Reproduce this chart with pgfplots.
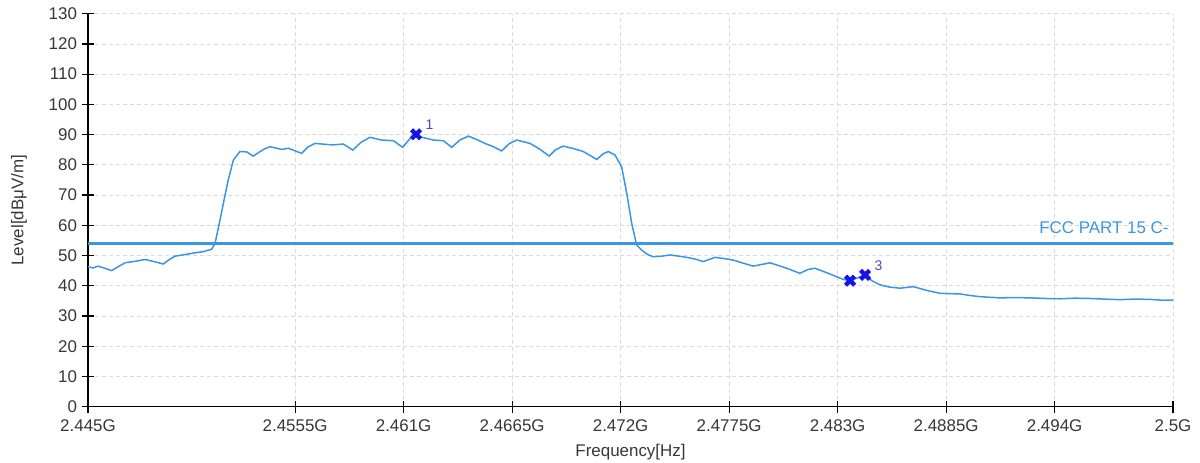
\documentclass[border=0pt]{standalone}
\usepackage{pgfplots}
\pgfplotsset{compat=1.18}
\usepackage{fontspec}
\setmainfont{Liberation Sans}
\definecolor{trace}{RGB}{58,150,228}
\definecolor{limitc}{RGB}{58,150,228}
\definecolor{mk}{RGB}{20,20,235}
\definecolor{mklab}{RGB}{80,70,190}
\definecolor{txt}{RGB}{55,55,55}
\definecolor{gridc}{RGB}{218,218,218}
\begin{document}
\begin{tikzpicture}
\begin{axis}[
  scale only axis,
  width=542.5bp, height=196.5bp,
  xmin=2.445, xmax=2.5, ymin=0, ymax=130,
  axis lines=left,
  axis line style={-, black, line width=0.6bp},
  xtick={2.445,2.4555,2.461,2.4665,2.472,2.4775,2.483,2.4885,2.494,2.5},
  xticklabels={2.445G,2.4555G,2.461G,2.4665G,2.472G,2.4775G,2.483G,2.4885G,2.494G,2.5G},
  ytick={0,10,...,130},
  tick align=center,
  major tick length=6bp,
  tick style={black, line width=0.6bp},
  grid=major,
  grid style={dash pattern=on 2bp off 1.5bp, gridc, line width=0.4bp},
  /pgf/number format/assume math mode=true,
  tick label style={font=\fontsize{8.5}{10}\selectfont, text=txt},
  yticklabel style={xshift=1bp},
  xticklabel style={yshift=0bp},
  xlabel={Frequency[Hz]},
  ylabel={Level[dBμV/m]},
  label style={font=\fontsize{8.5}{10}\selectfont, text=txt},
  xlabel style={at={(rel axis cs:0.5,0)}, anchor=center, yshift=-22.5bp},
  ylabel style={at={(rel axis cs:0,0.5)}, anchor=center, rotate=0, yshift=34.5bp},
  clip=false,
]
% limit line
\addplot[limitc, line width=1.5bp] coordinates {(2.445,54) (2.5,54)};
\node[anchor=south east, text=limitc, font=\fontsize{8.5}{10}\selectfont, inner sep=1bp] at (axis cs:2.4999,56.3) {FCC PART 15 C-};
% trace
\addplot[trace, line width=0.75bp] coordinates {
(2.44500,46.3) (2.44525,45.9) (2.44551,46.5) (2.44585,45.8) (2.44620,45.0) (2.44650,46.2)
(2.44688,47.6) (2.44740,48.1) (2.44789,48.7) (2.44835,48.0) (2.44882,47.2) (2.44910,48.6)
(2.44941,49.8) (2.44990,50.3) (2.45042,50.9) (2.45085,51.3) (2.45127,52.1) (2.45144,54.0)
(2.45169,61.7) (2.45190,68.5) (2.45211,75.0) (2.45237,81.6) (2.45270,84.4) (2.45304,84.3)
(2.45338,82.9) (2.45363,84.0) (2.45395,85.3) (2.45423,86.0) (2.45482,85.1) (2.45515,85.5)
(2.45583,83.8) (2.45615,85.9) (2.45651,87.1) (2.45700,86.8) (2.45743,86.6) (2.45794,86.9)
(2.45842,84.9) (2.45885,87.5) (2.45929,89.1) (2.45989,88.2) (2.46048,88.0) (2.46095,85.8)
(2.46149,90.0) (2.46183,89.3) (2.46250,88.2) (2.46301,88.0) (2.46344,85.8) (2.46385,88.2)
(2.46428,89.5) (2.46470,88.4) (2.46512,87.1) (2.46555,86.0) (2.46597,84.6) (2.46635,87.0)
(2.46673,88.2) (2.46741,87.1) (2.46790,85.2) (2.46838,82.9) (2.46870,85.0) (2.46909,86.2)
(2.46960,85.4) (2.47011,84.4) (2.47079,81.8) (2.47110,83.6) (2.47137,84.4) (2.47171,83.3)
(2.47205,79.4) (2.47231,70.6) (2.47256,60.7) (2.47281,53.5) (2.47307,51.8) (2.47335,50.4)
(2.47365,49.6) (2.47410,49.8) (2.47450,50.2) (2.47495,49.8) (2.47535,49.4) (2.47580,48.8)
(2.47619,48.0) (2.47678,49.4) (2.47725,49.0) (2.47771,48.5) (2.47820,47.5) (2.47872,46.5)
(2.47957,47.6) (2.48000,46.7) (2.48042,45.8) (2.48109,44.1) (2.48150,45.4) (2.48185,45.8)
(2.48225,44.8) (2.48261,43.9) (2.48329,42.1) (2.48363,41.7) (2.48400,42.6) (2.48439,43.6)
(2.48475,41.6) (2.48515,40.3) (2.48560,39.6) (2.48616,39.2) (2.48684,39.7) (2.48750,38.5)
(2.48819,37.5) (2.48870,37.4) (2.48920,37.3) (2.48970,36.8) (2.49022,36.4) (2.49070,36.2)
(2.49123,36.0) (2.49200,36.1) (2.49275,36.0) (2.49350,35.8) (2.49427,35.7) (2.49500,35.9)
(2.49579,35.8) (2.49650,35.6) (2.49731,35.4) (2.49800,35.6) (2.49883,35.5) (2.49950,35.2)
(2.50000,35.3)
};
% markers
\addplot[only marks, mark=x, mk, mark size=3.2bp, mark options={line width=2.2bp}] coordinates {
(2.46163,90.1) (2.48363,41.7) (2.48439,43.6)
};
\node[anchor=south west, text=mklab, font=\fontsize{7}{8}\selectfont, inner sep=0pt] at (axis cs:2.46210,91.5) {1};
\node[anchor=south west, text=mklab, font=\fontsize{7}{8}\selectfont, inner sep=0pt] at (axis cs:2.48486,45.0) {3};
\end{axis}
\pgfresetboundingbox
\path (-44bp,-28.15bp) rectangle (556bp,203.35bp);
\end{tikzpicture}
\end{document}
